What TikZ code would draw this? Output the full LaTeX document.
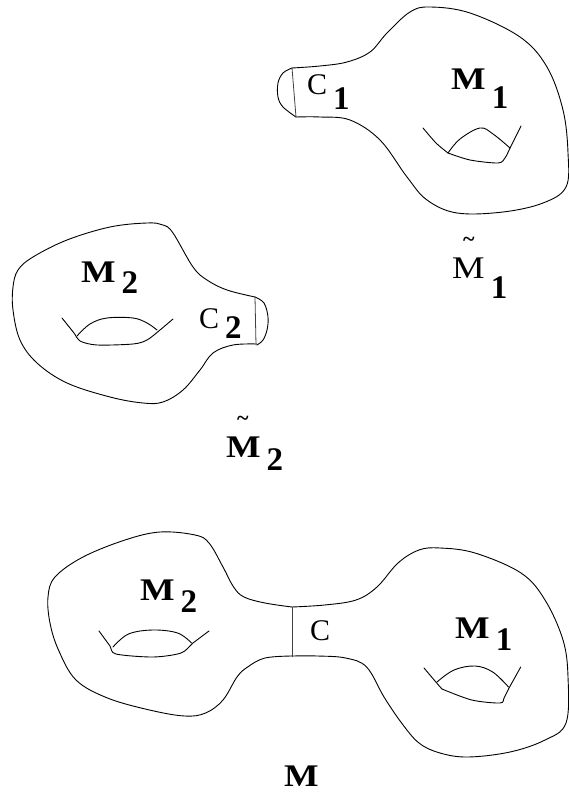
\documentclass[tikz,border=0pt]{standalone}
\usepackage{fontspec}
\setmainfont{Liberation Serif}
\usepackage{graphicx}

% labels: letter, bold subscript lowered by #3 pt
\newcommand{\lbl}[3]{#1\hspace{6pt}\raisebox{-#3pt}{\fontsize{33}{33}\selectfont\bfseries #2}}
\newcommand{\Mb}{\scalebox{1.22}[1.05]{\bfseries M}}
\newcommand{\Mr}{\scalebox{1.22}[1.05]{M}}
\newcommand{\tld}[1]{\rlap{\hspace{11pt}\raisebox{32pt}{\fontsize{22}{22}\selectfont\bfseries\textasciitilde}}#1}

\tikzset{
  rim/.style={line width=0.9pt,line join=round,line cap=round},
  cut/.style={line width=0.8pt,black!75},
  lab/.style={anchor=base west,inner sep=0pt,font=\fontsize{30}{30}\selectfont},
}

\begin{document}
\begin{tikzpicture}[x=1pt,y=-1pt]
\useasboundingbox (0,0) rectangle (569,799);

% --- top piece: M1 tilde ---
\draw[rim] plot[smooth,tension=0.6] coordinates {(292,68) (320,66) (347,62) (370,52) (387,33) (410,12) (430,7) (470,13) (520,37) (547,67) (563,110) (568,153) (566,187) (543,203) (503,212) (457,213) (427,200) (407,177) (380,140) (350,120) (320,117) (296,117)};
\draw[rim] plot[smooth,tension=0.6] coordinates {(292,68) (283,73) (278,83) (278,97) (283,107) (296,117)};
\draw[cut] (292,68) -- (296,117);
% handle
\draw[rim] plot[smooth,tension=0.5] coordinates {(423,128) (436,143) (448,153)};
\draw[rim] plot[smooth,tension=0.5] coordinates {(448,153) (470,160) (498,163) (505,158) (510,148)};
\draw[rim] (510,148) -- (521,126);
\draw[rim] plot[smooth,tension=0.6] coordinates {(448,153) (460,139) (480,128) (493,134) (510,148)};
\node[lab] (c1) at (307,95) {\lbl{C}{1}{15}};
\node[lab] (m1top) at (451,90) {\lbl{\Mb}{1}{19}};
\node[lab] (m1tilde) at (452,278) {\lbl{\tld{\Mr}}{1}{20}};

% --- middle piece: M2 tilde ---
\draw[rim] plot[smooth,tension=0.6] coordinates {(255,297) (227,290) (207,280) (193,267) (173,233) (163,225) (147,223) (110,227) (67,240) (33,257) (18,270) (13,287) (13,310) (20,340) (37,363) (67,383) (110,397) (143,403) (163,402) (183,390) (200,370) (213,353) (233,345) (257,344)};
\draw[rim] plot[smooth,tension=0.6] coordinates {(255,297) (264,303) (268,317) (267,330) (263,340) (257,345)};
\draw[cut] (255,297) -- (256,345);
% handle
\draw[rim] plot[smooth,tension=0.5] coordinates {(62,318) (74,333) (80,341) (97,345) (133,344) (147,340) (160,330) (173,319)};
\draw[rim] plot[smooth,tension=0.6] coordinates {(77,336) (90,324) (107,318) (133,318) (147,323) (157,330)};
\node[lab] (m2mid) at (81,282) {\lbl{\Mb}{2}{11}};
\node[lab] (c2) at (199,328) {\lbl{C}{2}{10}};
\node[lab] (m2tilde) at (226,457) {\lbl{\tld{\Mb}}{2}{13}};

% --- bottom: M = M2 # M1 ---
\draw[rim] plot[smooth,tension=0.6] coordinates {(292,607) (265,603) (244,597) (233.6,587) (223,567) (209,543) (195,535) (160,532) (125,540) (83,557) (55,577) (48,597) (50,623) (58.5,650) (76,680) (107.5,698) (149.5,710) (184.6,716) (205.6,713) (223,700) (237,677) (247.6,667) (265,658) (292,656)};
\draw[rim] plot[smooth,tension=0.6] coordinates {(292,607) (324.6,605) (356,600) (377,587) (398,563) (419,550) (440,548) (475,553) (521,573) (545,600) (563,640) (568,677) (566,723) (545,740) (510,752) (468,757) (440,753) (419,743) (401.6,723) (384,697) (366.6,667) (345.6,658) (317.6,656) (292,656)};
\draw[cut] (292,607) -- (292,657);
% handles
\draw[rim] plot[smooth,tension=0.5] coordinates {(99,631) (110,646) (116,654) (153,657) (181,653) (193,643) (209,631)};
\draw[rim] plot[smooth,tension=0.6] coordinates {(113,647) (128.5,634) (153,630) (177.6,633) (191.6,643)};
\draw[rim] plot[smooth,tension=0.5] coordinates {(424,668) (436.7,683) (442,689)};
\draw[rim] plot[smooth,tension=0.5] coordinates {(442,689) (471.7,700) (500,703) (504,698) (508.5,689)};
\draw[rim] (508.5,689) -- (520.7,667);
\draw[rim] plot[smooth,tension=0.6] coordinates {(437,682) (454,670) (475,666) (492.7,672) (508.5,687)};
\node[lab] (m2bot) at (140,600) {\lbl{\Mb}{2}{12}};
\node[lab] (cneck) at (310,640) {C};
\node[lab] (m1bot) at (455,638) {\lbl{\Mb}{1}{12}};
\node[lab] (mlabel) at (284,786) {\Mb};
\end{tikzpicture}
\end{document}
